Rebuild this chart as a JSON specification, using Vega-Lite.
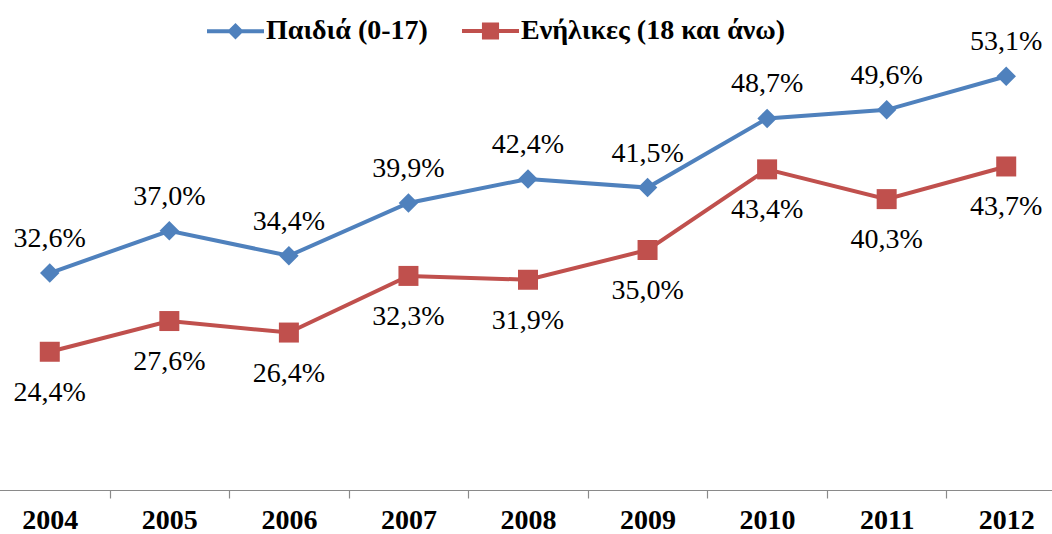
{
  "$schema": "https://vega.github.io/schema/vega-lite/v6.json",
  "width": 1052,
  "height": 480,
  "autosize": {"type": "none"},
  "padding": {"left": 0, "right": 0, "top": 10, "bottom": 44},
  "background": "white",
  "config": {"view": {"stroke": null}, "font": "Liberation Serif"},
  "data": {
    "values": [
      {"year": "2004", "series": "Παιδιά (0-17)", "value": 32.6, "label": "32,6%"},
      {"year": "2005", "series": "Παιδιά (0-17)", "value": 37.0, "label": "37,0%"},
      {"year": "2006", "series": "Παιδιά (0-17)", "value": 34.4, "label": "34,4%"},
      {"year": "2007", "series": "Παιδιά (0-17)", "value": 39.9, "label": "39,9%"},
      {"year": "2008", "series": "Παιδιά (0-17)", "value": 42.4, "label": "42,4%"},
      {"year": "2009", "series": "Παιδιά (0-17)", "value": 41.5, "label": "41,5%"},
      {"year": "2010", "series": "Παιδιά (0-17)", "value": 48.7, "label": "48,7%"},
      {"year": "2011", "series": "Παιδιά (0-17)", "value": 49.6, "label": "49,6%"},
      {"year": "2012", "series": "Παιδιά (0-17)", "value": 53.1, "label": "53,1%"},
      {"year": "2004", "series": "Ενήλικες (18 και άνω)", "value": 24.4, "label": "24,4%"},
      {"year": "2005", "series": "Ενήλικες (18 και άνω)", "value": 27.6, "label": "27,6%"},
      {"year": "2006", "series": "Ενήλικες (18 και άνω)", "value": 26.4, "label": "26,4%"},
      {"year": "2007", "series": "Ενήλικες (18 και άνω)", "value": 32.3, "label": "32,3%"},
      {"year": "2008", "series": "Ενήλικες (18 και άνω)", "value": 31.9, "label": "31,9%"},
      {"year": "2009", "series": "Ενήλικες (18 και άνω)", "value": 35.0, "label": "35,0%"},
      {"year": "2010", "series": "Ενήλικες (18 και άνω)", "value": 43.4, "label": "43,4%"},
      {"year": "2011", "series": "Ενήλικες (18 και άνω)", "value": 40.3, "label": "40,3%"},
      {"year": "2012", "series": "Ενήλικες (18 και άνω)", "value": 43.7, "label": "43,7%"}
    ]
  },
  "encoding": {
    "x": {
      "field": "year",
      "type": "nominal",
      "scale": {"type": "band", "paddingInner": 0, "paddingOuter": 0, "range": [-10, 1066]},
      "axis": {
        "title": null,
        "labelAngle": 0,
        "tickBand": "extent",
        "domainColor": "#8a8a8a",
        "tickColor": "#8a8a8a",
        "domainWidth": 1.2,
        "tickWidth": 1.2,
        "tickSize": 8,
        "labelFont": "Liberation Serif",
        "labelFontSize": 28,
        "labelFontWeight": "bold",
        "labelColor": "#000000",
        "labelPadding": 8,
        "grid": false
      }
    },
    "y": {
      "field": "value",
      "type": "quantitative",
      "scale": {"domain": [10, 60]},
      "axis": null
    }
  },
  "layer": [
    {
      "mark": {"type": "line", "strokeWidth": 4},
      "encoding": {
        "color": {
          "field": "series",
          "type": "nominal",
          "scale": {"domain": ["Παιδιά (0-17)", "Ενήλικες (18 και άνω)"], "range": ["#4F81BD", "#C0504D"]},
          "legend": {
            "title": null,
            "orient": "none",
            "legendX": 205,
            "legendY": -10,
            "direction": "horizontal",
            "labelFont": "Liberation Serif",
            "labelFontSize": 28,
            "labelFontWeight": "bold",
            "labelColor": "#000000",
            "labelLimit": 0,
            "symbolSize": 3249,
            "symbolStrokeWidth": 4,
            "columnPadding": 26,
            "labelOffset": 0,
            "padding": 0,
            "symbolOffset": 0,
            "encode": {
              "symbols": {
                "update": {
                  "shape": {"signal": "datum.value === 'Παιδιά (0-17)' ? 'M-1,0L1,0M-0.19,0L0,-0.19L0.19,0L0,0.19Z' : 'M-1,0L1,0M-0.23,-0.23L0.23,-0.23L0.23,0.23L-0.23,0.23Z'"},
                  "fill": {"scale": "color", "field": "value"},
                  "stroke": {"scale": "color", "field": "value"},
                  "strokeWidth": {"value": 4},
                  "opacity": {"value": 1},
                  "fillOpacity": {"value": 1}
                }
              }
            }
          }
        }
      }
    },
    {
      "transform": [{"filter": "datum.series === 'Παιδιά (0-17)'"}],
      "mark": {"type": "point", "filled": true, "opacity": 1, "shape": "diamond", "size": 380, "color": "#4F81BD"}
    },
    {
      "transform": [{"filter": "datum.series !== 'Παιδιά (0-17)'"}],
      "mark": {"type": "point", "filled": true, "opacity": 1, "shape": "square", "size": 400, "color": "#C0504D"}
    },
    {
      "transform": [{"filter": "datum.series === 'Παιδιά (0-17)'"}],
      "mark": {"type": "text", "font": "Liberation Serif", "fontSize": 28, "color": "#000000", "align": "center", "baseline": "alphabetic", "dy": -26},
      "encoding": {"text": {"field": "label"}}
    },
    {
      "transform": [{"filter": "datum.series !== 'Παιδιά (0-17)'"}],
      "mark": {"type": "text", "font": "Liberation Serif", "fontSize": 28, "color": "#000000", "align": "center", "baseline": "alphabetic", "dy": 49},
      "encoding": {"text": {"field": "label"}}
    }
  ]
}
